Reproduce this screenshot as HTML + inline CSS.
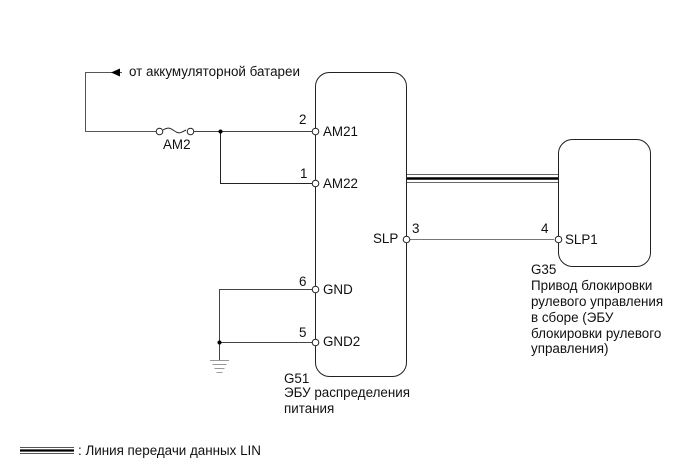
<!DOCTYPE html>
<html><head><meta charset="utf-8"><style>
html,body{margin:0;padding:0;background:#fff}
svg{display:block}
text{font-family:"Liberation Sans",sans-serif;font-size:13.4px;fill:#111}
</style></head><body>
<svg width="691" height="465" viewBox="0 0 691 465" xmlns="http://www.w3.org/2000/svg">
<g fill="none" stroke="#222" stroke-width="1">
<rect x="315.5" y="72.5" width="91" height="304" rx="14" ry="14"/>
<rect x="558.5" y="139.5" width="92" height="127" rx="14" ry="14"/>
<path d="M122 72.5H85.5V131.5H156" stroke="#555"/>
<path d="M194 131.5H312" stroke="#444"/>
<path d="M163 130c5-3 7-2 10 0s6 4 9 2l4-2"/>
<path d="M220.5 131.5V183.5H312"/>
<path d="M312 289.5H219.5V360" stroke="#444"/>
<path d="M219.5 342.5H312" stroke="#444"/>
<path d="M410 239.5H554" stroke="#777"/>
<path d="M210 360.5H229M212.5 364.5H226.5M214.5 368.5H224.5M216.5 372.5H222.5" stroke="#999"/>
<path d="M407 174.5H558M407 182.5H558" stroke="#666"/>
<path d="M407 178.5H558" stroke="#000" stroke-width="2.6"/>
<path d="M20 447.5H74M20 453.5H74" stroke="#555"/>
<path d="M20 450.5H74" stroke="#000" stroke-width="2.2"/>
</g>
<path d="M111 72.5L120 68.5V76.5Z" fill="#000"/>
<circle cx="220.5" cy="131.5" r="2" fill="#000"/>
<circle cx="219.5" cy="342.5" r="2" fill="#000"/>
<g fill="#fff" stroke="#222" stroke-width="1">
<circle cx="159.5" cy="131.5" r="3.3"/>
<circle cx="190.5" cy="131.5" r="3.3"/>
<circle cx="315.5" cy="131.5" r="3.3"/>
<circle cx="315.5" cy="183.5" r="3.3"/>
<circle cx="315.5" cy="289.5" r="3.3"/>
<circle cx="315.5" cy="342.5" r="3.3"/>
<circle cx="406.5" cy="239.5" r="3.3"/>
<circle cx="558.5" cy="239.5" r="3.3"/>
</g>
<text x="129" y="76">от аккумуляторной батареи</text>
<text x="163" y="149">AM2</text>
<text x="299" y="124">2</text>
<text x="300" y="178">1</text>
<text x="299" y="286">6</text>
<text x="299" y="337">5</text>
<text x="412" y="233">3</text>
<text x="541" y="233">4</text>
<text x="323" y="136">AM21</text>
<text x="323" y="188">AM22</text>
<text x="323" y="294">GND</text>
<text x="323" y="346">GND2</text>
<text x="373" y="243">SLP</text>
<text x="565" y="244">SLP1</text>
<text x="284" y="383">G51</text>
<text x="284" y="397">ЭБУ распределения</text>
<text x="284" y="413">питания</text>
<text x="531" y="274">G35</text>
<text x="531" y="290">Привод блокировки</text>
<text x="531" y="306">рулевого управления</text>
<text x="531" y="322">в сборе (ЭБУ</text>
<text x="531" y="338">блокировки рулевого</text>
<text x="531" y="353">управления)</text>
<text x="78" y="455">: Линия передачи данных LIN</text>
</svg>
</body></html>
